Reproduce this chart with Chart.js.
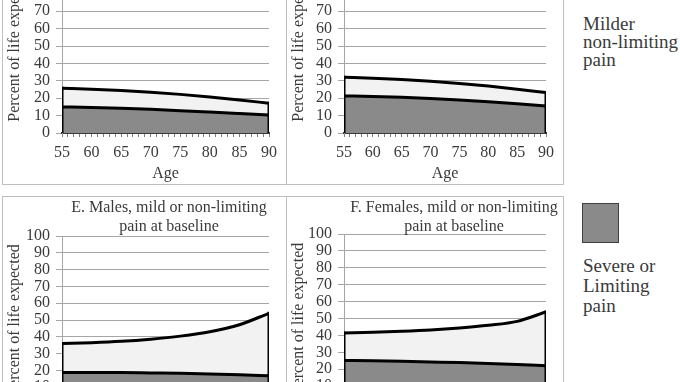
<!DOCTYPE html>
<html>
<head>
<meta charset="utf-8">
<script src="https://cdn.jsdelivr.net/npm/chart.js@4.4.1/dist/chart.umd.min.js"></script>
<style>
  body { margin: 0; background: #fff; }
  #page { position: relative; width: 680px; height: 382px; overflow: hidden; background: #fff; }
  .panel { position: absolute; box-sizing: border-box; border: 1px solid #bfbfbf; background: #fff; }
  .panel canvas { position: absolute; left: 0; top: 0; }
  .legend-text { position: absolute; left: 583px; font-family: 'Liberation Serif', 'DejaVu Serif', serif; font-size: 19px; color: #3a3a3a; white-space: nowrap; }
  .swatch { position: absolute; left: 582px; width: 37px; height: 40px; box-sizing: border-box; border: 1px solid #404040; }
</style>
</head>
<body>
<div id="page">
  <div class="panel" style="left:2px; top:-82px; width:285px; height:267px;"><canvas id="chartC" width="283" height="265"></canvas></div>
  <div class="panel" style="left:286px; top:-82px; width:278px; height:267px;"><canvas id="chartD" width="276" height="265"></canvas></div>
  <div class="panel" style="left:2px; top:196px; width:285px; height:267px;"><canvas id="chartE" width="283" height="265"></canvas></div>
  <div class="panel" style="left:286px; top:196px; width:278px; height:267px;"><canvas id="chartF" width="276" height="265"></canvas></div>

  <div class="swatch" style="top:-42px; background:#f2f2f2;"></div>
  <div class="legend-text" style="top:15px; line-height:18px;">Milder<br>non-limiting<br>pain</div>
  <div class="swatch" style="top:203px; background:#8a8a8a;"></div>
  <div class="legend-text" style="top:256px; line-height:20px;">Severe or<br>Limiting<br>pain</div>
</div>

<script>
// Âges (axe x)
const ages = [55, 60, 65, 70, 75, 80, 85, 90];

// C. Hommes, douleur sévère au départ
const cTotal  = [25.7, 25.2, 24.4, 23.4, 22.2, 20.7, 19.0, 17.1];
const cSevere = [15.0, 14.7, 14.2, 13.6, 12.8, 12.0, 11.2, 10.4];
// D. Femmes, douleur sévère au départ
const dTotal  = [32.0, 31.5, 30.8, 29.8, 28.5, 27.0, 25.2, 23.2];
const dSevere = [21.3, 21.0, 20.5, 19.8, 19.0, 18.0, 16.8, 15.5];
// E. Hommes, douleur légère au départ
const eTotal  = [36.0, 36.5, 37.3, 38.6, 40.4, 43.0, 47.2, 54.0];
const eSevere = [18.8, 18.8, 18.7, 18.5, 18.3, 17.9, 17.4, 16.8];
// F. Femmes, douleur légère au départ
const fTotal  = [41.4, 41.8, 42.4, 43.2, 44.4, 46.0, 48.3, 53.9];
const fSevere = [25.2, 25.0, 24.7, 24.3, 23.9, 23.4, 22.8, 22.1];

const yTicks = [0, 100, 10]; // min, max, pas

const SERIF = "'Liberation Serif', 'DejaVu Serif', serif";
const TEXT = '#3a3a3a';

// Titre de panneau centré sur une position donnée (le titre natif se centre mal ici)
const panelTitle = {
    id: 'panelTitle',
    afterDraw(chart, args, opts) {
        if (!opts || !opts.lines) return;
        const ctx = chart.ctx;
        ctx.save();
        ctx.font = '16px ' + SERIF;
        ctx.fillStyle = TEXT;
        ctx.textAlign = 'center';
        ctx.textBaseline = 'middle';
        opts.lines.forEach((t, i) => ctx.fillText(t, opts.x, opts.y + i * 19));
        ctx.restore();
    }
};

function points(arr) {
    return ages.map((a, i) => ({ x: a, y: arr[i] }));
}

function makePanel(id, total, severe, title, geo) {
    const canvas = document.getElementById(id);
    const W = canvas.width, H = canvas.height;
    const last = ages.length - 1;
    const line = { borderColor: '#000', borderWidth: 3, pointRadius: 0, pointHoverRadius: 0 };

    new Chart(canvas, {
        type: 'line',
        data: {
            datasets: [
                Object.assign({ label: 'Severe or Limiting pain', data: points(severe), fill: 'origin',
                    backgroundColor: '#8a8a8a', cubicInterpolationMode: 'monotone', order: 2 }, line),
                Object.assign({ label: 'Milder non-limiting pain', data: points(total), fill: 'origin',
                    backgroundColor: '#f2f2f2', cubicInterpolationMode: 'monotone', order: 3 }, line),
                // bords verticaux des aires
                Object.assign({ data: [{ x: ages[0], y: 0 }, { x: ages[0], y: total[0] }], fill: false,
                    borderCapStyle: 'square', order: 1 }, line),
                Object.assign({ data: [{ x: ages[last], y: 0 }, { x: ages[last], y: total[last] }], fill: false,
                    borderCapStyle: 'square', order: 1 }, line)
            ]
        },
        options: {
            responsive: false,
            animation: false,
            layout: { padding: { top: geo.top, right: W - geo.right, left: 0, bottom: 0 } },
            scales: {
                x: {
                    type: 'linear',
                    min: ages[0],
                    max: ages[last],
                    afterFit: s => { s.height = H - geo.bottom; },
                    ticks: {
                        stepSize: 1,
                        autoSkip: false,
                        maxRotation: 0,
                        padding: 6,
                        color: TEXT,
                        font: { family: SERIF, size: 16 },
                        callback: v => (v % 5 === 0 ? v : '')
                    },
                    grid: { drawOnChartArea: false, drawTicks: true, tickLength: 4, color: '#808080' },
                    border: { color: '#3a3a3a', width: 2 },
                    title: { display: true, text: 'Age', color: TEXT,
                        font: { family: SERIF, size: 16 }, padding: { top: 0, bottom: 1 } }
                },
                y: {
                    min: yTicks[0],
                    max: yTicks[1],
                    afterFit: s => { s.width = geo.left; },
                    ticks: { stepSize: yTicks[2], autoSkip: false, padding: 6, color: TEXT,
                        font: { family: SERIF, size: 16 } },
                    grid: { color: '#a6a6a6', tickLength: 6 },
                    border: { color: '#a6a6a6' },
                    title: { display: true, text: 'Percent of life expected', color: TEXT,
                        font: { family: SERIF, size: 16 }, padding: { top: 2, bottom: 0 } }
                }
            },
            plugins: {
                legend: { display: false },
                tooltip: { enabled: false },
                panelTitle: { lines: title, x: geo.tx, y: geo.ty }
            }
        },
        plugins: [panelTitle]
    });
}

makePanel('chartC', cTotal, cSevere, ['C. Males, severe or limiting', 'pain at baseline'],
    { left: 59, right: 266, top: 40, bottom: 214, tx: 166, ty: 12 });
makePanel('chartD', dTotal, dSevere, ['D. Females, severe or limiting', 'pain at baseline'],
    { left: 57, right: 259, top: 40, bottom: 214, tx: 167, ty: 12 });
makePanel('chartE', eTotal, eSevere, ['E. Males, mild or non-limiting', 'pain at baseline'],
    { left: 59, right: 266, top: 39, bottom: 207, tx: 166, ty: 11 });
makePanel('chartF', fTotal, fSevere, ['F. Females, mild or non-limiting', 'pain at baseline'],
    { left: 57, right: 259, top: 37, bottom: 206, tx: 167, ty: 11 });
</script>
</body>
</html>
